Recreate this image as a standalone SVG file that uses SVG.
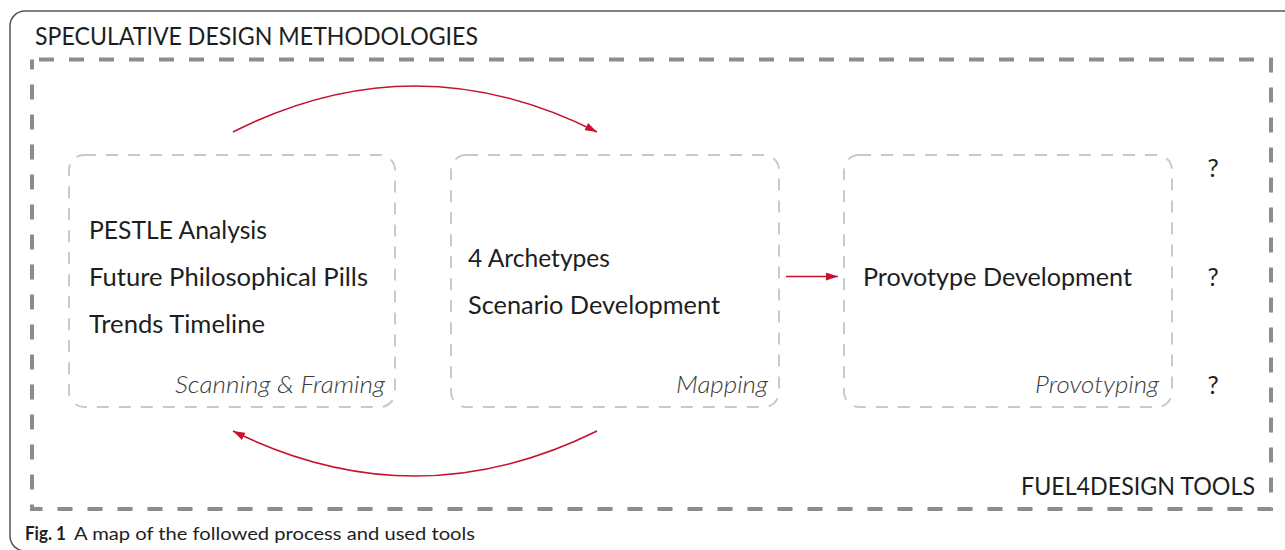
<svg xmlns="http://www.w3.org/2000/svg" width="1285" height="550" viewBox="0 0 1285 550">
  <defs>
    <marker id="ah" viewBox="0 0 12 8" refX="12" refY="4" markerWidth="12" markerHeight="8" markerUnits="userSpaceOnUse" orient="auto">
      <path d="M0,0 L12,4 L0,8 Z" fill="#c4122f"/>
    </marker>
    <style>
      .t { font-family: Lato, "Open Sans", sans-serif; fill: #1e1e1e; font-size: 25px; }
      .lab { font-family: Lato, "Open Sans", sans-serif; fill: #3c3c3c; font-size: 23px; font-style: italic; font-weight: 300; }
      .box { fill: none; stroke: #c9c9c9; stroke-width: 2; stroke-dasharray: 12 10; }
      .conn { fill: none; stroke: #c4122f; stroke-width: 1.6; }
      .cap { font-family: Lato, "Open Sans", sans-serif; font-size: 18px; fill: #1e1e1e; }
    </style>
  </defs>
  <rect width="1285" height="550" fill="#ffffff"/>
  <rect x="10" y="11" width="1300" height="540" rx="15" fill="none" stroke="#555555" stroke-width="1.5"/>
  <g id="frame">
    <rect x="32" y="59.5" width="1239" height="449.5" fill="none" stroke="#8c8c8c" stroke-width="4" stroke-dasharray="15 15" stroke-dashoffset="-7"/>
    <text class="t" x="35" y="45" textLength="443" lengthAdjust="spacingAndGlyphs">SPECULATIVE DESIGN METHODOLOGIES</text>
    <text class="t" x="1021" y="495" textLength="234" lengthAdjust="spacingAndGlyphs">FUEL4DESIGN TOOLS</text>
  </g>
  <g id="node-scanning">
    <rect class="box" x="69" y="155" width="326" height="252" rx="15"/>
    <text class="t" x="89" y="239" textLength="178" lengthAdjust="spacingAndGlyphs">PESTLE Analysis</text>
    <text class="t" x="89" y="286" textLength="279" lengthAdjust="spacingAndGlyphs">Future Philosophical Pills</text>
    <text class="t" x="89" y="333" textLength="176" lengthAdjust="spacingAndGlyphs">Trends Timeline</text>
    <text class="lab" x="385" y="393" text-anchor="end" textLength="210" lengthAdjust="spacingAndGlyphs">Scanning &amp; Framing</text>
  </g>
  <g id="node-mapping">
    <rect class="box" x="451" y="155" width="328" height="252" rx="15"/>
    <text class="t" x="468" y="267" textLength="142" lengthAdjust="spacingAndGlyphs">4 Archetypes</text>
    <text class="t" x="468" y="314" textLength="252" lengthAdjust="spacingAndGlyphs">Scenario Development</text>
    <text class="lab" x="768" y="393" text-anchor="end" textLength="92" lengthAdjust="spacingAndGlyphs">Mapping</text>
  </g>
  <g id="node-provotyping">
    <rect class="box" x="844" y="155" width="328" height="252" rx="15"/>
    <text class="t" x="863" y="286" textLength="269" lengthAdjust="spacingAndGlyphs">Provotype Development</text>
    <text class="lab" x="1159" y="393" text-anchor="end" textLength="124" lengthAdjust="spacingAndGlyphs">Provotyping</text>
  </g>
  <g id="questions">
    <text class="t" x="1213" y="177" text-anchor="middle" font-size="23">?</text>
    <text class="t" x="1213" y="286" text-anchor="middle" font-size="23">?</text>
    <text class="t" x="1213" y="394" text-anchor="middle" font-size="23">?</text>
  </g>
  <g id="connectors">
    <path class="conn" d="M233,132 Q415,40 597,132" marker-end="url(#ah)"/>
    <path class="conn" d="M597,431 Q415,521 233,431" marker-end="url(#ah)"/>
    <path class="conn" d="M786,276.5 L838,276.5" marker-end="url(#ah)"/>
  </g>
  <g id="caption">
    <text class="cap" x="25" y="540" font-weight="bold" textLength="41" lengthAdjust="spacingAndGlyphs">Fig. 1</text>
    <text class="cap" x="74" y="540" textLength="401" lengthAdjust="spacingAndGlyphs">A map of the followed process and used tools</text>
  </g>
</svg>
